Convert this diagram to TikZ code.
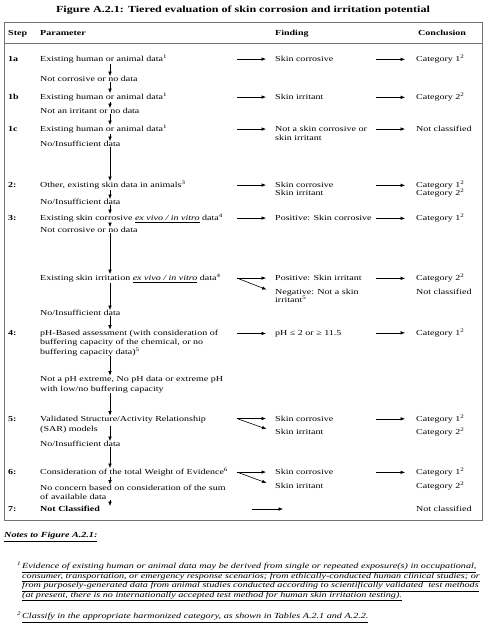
\documentclass[tikz,border=0pt]{standalone}
\usepackage{fontspec}
\setmainfont{Liberation Serif}[FakeStretch=1.3]
\usetikzlibrary{arrows.meta}
\newcommand\fs{\fontsize{7.7}{9}\selectfont}
\newcommand\fnfs{\fontsize{7.8}{9}\selectfont}
\newcommand\fnm[1]{\textsuperscript{#1}}
\begin{document}
\begin{tikzpicture}[x=1pt,y=-1pt,
  tx/.style={anchor=base west, inner sep=0pt, font=\fs},
  hd/.style={tx, font=\fs\bfseries},
  stp/.style={tx, font=\fs\bfseries},
  fn/.style={tx, font=\fnfs\itshape},
  arr/.style={-{Latex[length=4.5pt,width=3.6pt]}, line width=0.6pt},
  frame/.style={draw=black!55, line width=0.5pt}]
\useasboundingbox (0,0) rectangle (486,631);
% title
\node[inner sep=0pt, font=\fontsize{9.3}{11}\selectfont\bfseries] (title) at (243,10)
  {Figure A.2.1: Tiered evaluation of skin corrosion and irritation potential};
% frame
\draw[frame] (4,22) rectangle (482.5,520);
\draw[frame] (4,43) -- (482.5,43);
% header
\node[hd] (hstep) at (8,35.7) {Step};
\node[hd] (hpar) at (40,35.7) {Parameter};
\node[hd] (hfind) at (275,35.7) {Finding};
\node[hd] (hconc) at (418,35.7) {Conclusion};
% column helper coordinates
\coordinate (ax) at (110,0);
\coordinate (hs) at (237,0);
\coordinate (ks) at (376,0);
% steps
\node[stp] (s1a) at (8,61.7) {1a};
\node[stp] (s1b) at (8,99.7) {1b};
\node[stp] (s1c) at (8,131.7) {1c};
\node[stp] (s2) at (8,187.7) {2:};
\node[stp] (s3) at (8,220.7) {3:};
\node[stp] (s4) at (8,335.2) {4:};
\node[stp] (s5) at (8,421.2) {5:};
\node[stp] (s6) at (8,474.7) {6:};
\node[stp] (s7) at (8,511.7) {7:};
% parameters
\node[tx] (p1a) at (40,61.7) {Existing human or animal data\fnm{1}};
\node[tx] (n1a) at (40,81.7) {Not corrosive or no data};
\node[tx] (p1b) at (40,99.7) {Existing human or animal data\fnm{1}};
\node[tx] (n1b) at (40,113.7) {Not an irritant or no data};
\node[tx] (p1c) at (40,131.7) {Existing human or animal data\fnm{1}};
\node[tx] (n1c) at (40,146.7) {No/Insufficient data};
\node[tx] (p2) at (40,187.7) {Other, existing skin data in animals\fnm{3}};
\node[tx] (n2) at (40,204.7) {No/Insufficient data};
\node[tx] (p3a) at (40,220.7) {Existing skin corrosive \underline{\textit{ex vivo / in vitro}} data\fnm{4}};
\node[tx] (n3a) at (40,232.7) {Not corrosive or no data};
\node[tx] (p3b) at (40,280.7) {Existing skin irritation \underline{\textit{ex vivo / in vitro}} data\fnm{4}};
\node[tx] (n3b) at (40,315.7) {No/Insufficient data};
\node[tx] (p4a) at (40,335.2) {pH-Based assessment (with consideration of};
\node[tx] (p4b) at (40,344.7) {buffering capacity of the chemical, or no};
\node[tx] (p4c) at (40,354.2) {buffering capacity data)\fnm{5}};
\node[tx] (n4a) at (40,381.2) {Not a pH extreme, No pH data or extreme pH};
\node[tx] (n4b) at (40,391.2) {with low/no buffering capacity};
\node[tx] (p5a) at (40,421.2) {Validated Structure/Activity Relationship};
\node[tx] (p5b) at (40,431.2) {(SAR) models};
\node[tx] (n5) at (40,446.7) {No/Insufficient data};
\node[tx] (p6) at (40,474.7) {Consideration of the total Weight of Evidence\fnm{6}};
\node[tx] (n6a) at (40,490.2) {No concern based on consideration of the sum};
\node[tx] (n6b) at (40,499.7) {of available data};
\node[stp] (p7) at (40,511.7) {Not Classified};
% findings
\node[tx] (f1a) at (275,61.7) {Skin corrosive};
\node[tx] (f1b) at (275,99.7) {Skin irritant};
\node[tx] (f1c) at (275,131.7) {Not a skin corrosive or};
\node[tx] (f1cb) at (275,140.7) {skin irritant};
\node[tx] (f2) at (275,187.7) {Skin corrosive};
\node[tx] (f2b) at (275,195.7) {Skin irritant};
\node[tx] (f3a) at (275,220.7) {Positive: Skin corrosive};
\node[tx] (f3p) at (275,280.7) {Positive: Skin irritant};
\node[tx] (f3n) at (275,294.7) {Negative: Not a skin};
\node[tx] (f3nb) at (275,302.7) {irritant\fnm{5}};
\node[tx] (f4) at (275,335.2) {pH ≤ 2 or ≥ 11.5};
\node[tx] (f5c) at (275,421.2) {Skin corrosive};
\node[tx] (f5i) at (275,434.7) {Skin irritant};
\node[tx] (f6c) at (275,474.7) {Skin corrosive};
\node[tx] (f6i) at (275,488.7) {Skin irritant};
% conclusions
\node[tx] (c1a) at (416,61.7) {Category 1\fnm{2}};
\node[tx] (c1b) at (416,99.7) {Category 2\fnm{2}};
\node[tx] (c1c) at (416,131.7) {Not classified};
\node[tx] (c2) at (416,187.7) {Category 1\fnm{2}};
\node[tx] (c2b) at (416,195.7) {Category 2\fnm{2}};
\node[tx] (c3a) at (416,220.7) {Category 1\fnm{2}};
\node[tx] (c3p) at (416,280.7) {Category 2\fnm{2}};
\node[tx] (c3n) at (416,294.7) {Not classified};
\node[tx] (c4) at (416,335.2) {Category 1\fnm{2}};
\node[tx] (c5c) at (416,421.2) {Category 1\fnm{2}};
\node[tx] (c5i) at (416,434.7) {Category 2\fnm{2}};
\node[tx] (c6c) at (416,474.7) {Category 1\fnm{2}};
\node[tx] (c6i) at (416,488.7) {Category 2\fnm{2}};
\node[tx] (c7) at (416,511.7) {Not classified};
% vertical arrows
\draw[arr] (p1a.south -| ax) -- (n1a.north -| ax);
\draw[arr] (n1a.south -| ax) -- (p1b.north -| ax);
\draw[arr] (p1b.south -| ax) -- (n1b.north -| ax);
\draw[arr] (n1b.south -| ax) -- (p1c.north -| ax);
\draw[arr] (p1c.south -| ax) -- (n1c.north -| ax);
\draw[arr] (n1c.south -| ax) -- (p2.north -| ax);
\draw[arr] (p2.south -| ax) -- (n2.north -| ax);
\draw[arr] (n2.south -| ax) -- (p3a.north -| ax);
\draw[arr] (p3a.south -| ax) -- (n3a.north -| ax);
\draw[arr] (n3a.south -| ax) -- (p3b.north -| ax);
\draw[arr] (p3b.south -| ax) -- (n3b.north -| ax);
\draw[arr] (n3b.south -| ax) -- (p4a.north -| ax);
\draw[arr] (p4c.south -| ax) -- (n4a.north -| ax);
\draw[arr] (n4b.south -| ax) -- (p5a.north -| ax);
\draw[arr] (p5b.north -| ax) -- (n5.north -| ax);
\draw[arr] (n5.south -| ax) -- (p6.north -| ax);
\draw[arr] (p6.south -| ax) -- (n6a.north -| ax);
\draw[arr] (n6b.south -| ax) -- (p7.north -| ax);
% findings arrows
\foreach \f in {f1a,f1b,f1c,f2,f3a,f3p,f4,f5c,f6c}
  \draw[arr, shorten >=9pt] (\f.west -| hs) -- (\f.west);
\draw[arr, shorten >=9pt] (f3p.west -| hs) -- (f3n.west);
\draw[arr, shorten >=9pt] (f5c.west -| hs) -- (f5i.west);
\draw[arr, shorten >=9pt] (f6c.west -| hs) -- (f6i.west);
% conclusion arrows
\foreach \c in {c1a,c1b,c1c,c2,c3a,c3p,c4,c5c,c6c}
  \draw[arr, shorten >=11pt] (\c.west -| ks) -- (\c.west);
\coordinate (r7s) at (252,509);
\coordinate (r7e) at (283,509);
\draw[arr] (r7s) -- (r7e);
% notes
\node[tx, font=\fnfs\bfseries\itshape] (notes) at (4,537.7) {\underline{Notes to Figure A.2.1:}};
\node[fn] (m1) at (17,568.7) {\fnm{1}};
\node[fn] (fa) at (22,568.7) {\underline{Evidence of existing human or animal data may be derived from single or repeated exposure(s) in occupational,}};
\node[fn] (fb) at (22,578.2) {\underline{consumer, transportation, or emergency response scenarios; from ethically-conducted human clinical studies; or}};
\node[fn] (fc) at (22,587.7) {\underline{from purposely-generated data from animal studies conducted according to scientifically validated\ \ test methods}};
\node[fn] (fd) at (22,597.2) {\underline{(at present, there is no internationally accepted test method for human skin irritation testing).}};
\node[fn] (m2) at (17,618.7) {\fnm{2}};
\node[fn] (fe) at (22,618.7) {\underline{Classify in the appropriate harmonized category, as shown in Tables A.2.1 and A.2.2.}};
\end{tikzpicture}
\end{document}
